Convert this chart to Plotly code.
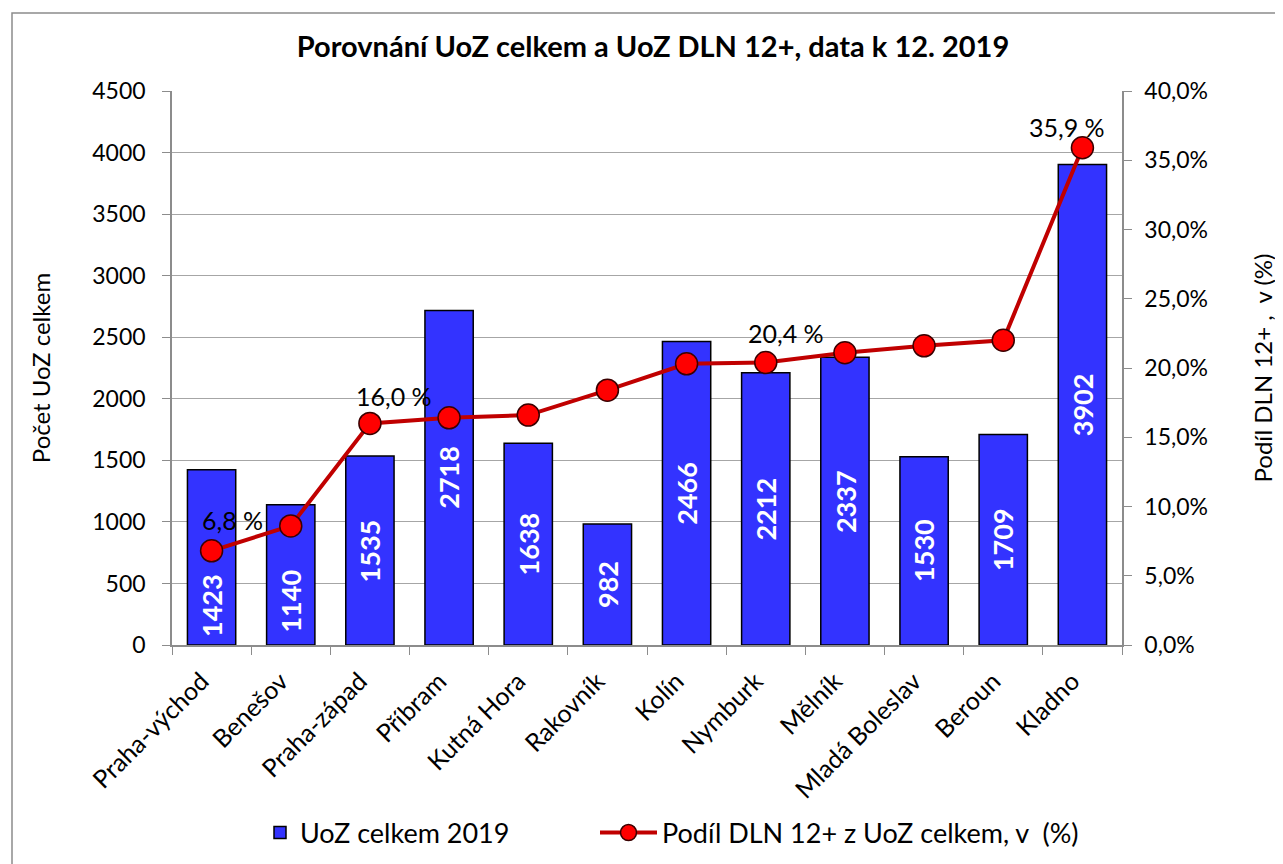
import plotly.graph_objects as go

categories = ["Praha-východ", "Benešov", "Praha-západ", "Příbram", "Kutná Hora", "Rakovník",
              "Kolín", "Nymburk", "Mělník", "Mladá Boleslav", "Beroun", "Kladno"]
uoz_celkem = [1423, 1140, 1535, 2718, 1638, 982, 2466, 2212, 2337, 1530, 1709, 3902]
podil_dln = [6.8, 8.6, 16.0, 16.4, 16.6, 18.4, 20.3, 20.4, 21.1, 21.6, 22.0, 35.9]
labeled_points = {0: "6,8 %", 2: "16,0 %", 7: "20,4 %", 11: "35,9 %"}

# style offsets (pixels) for the labels
label_shifts = {0: (21, 31), 2: (24, 27), 7: (20, 29), 11: (-15, 21)}
bar_label_yshift = [-48, -26, 0, 0, 0, 0, 0, 0, 0, 0, 0, 0]

FONT = "Lato"
# plot area in page pixels (page has an 8px body margin)
PX0, PX1, PY0, PY1 = 172, 1122, 91, 645
OFF = 8

def px_x(px):
    return (px - PX0) / (PX1 - PX0)

def px_y(py):
    return (PY1 - py) / (PY1 - PY0)

fig = go.Figure()
fig.add_trace(go.Bar(
    x=categories, y=uoz_celkem, name="UoZ celkem 2019",
    marker=dict(color="#3333FF", line=dict(color="black", width=1.5)),
    legend="legend",
))
fig.add_trace(go.Scatter(
    x=categories, y=podil_dln, name="Podíl DLN 12+ z UoZ celkem, v  (%)", yaxis="y2",
    mode="lines+markers",
    line=dict(color="#C00000", width=4),
    marker=dict(color="#FF0000", size=22, line=dict(color="#3a0000", width=1.5)),
    legend="legend2",
))

for cat, val, ys in zip(categories, uoz_celkem, bar_label_yshift):
    fig.add_annotation(x=cat, y=val / 2, xref="x", yref="y", text=f"<b>{val}</b>",
                       showarrow=False, textangle=-90, yshift=ys,
                       font=dict(size=27, color="white", family=FONT))

for i, txt in labeled_points.items():
    dx, dy = label_shifts[i]
    fig.add_annotation(x=categories[i], y=podil_dln[i], xref="x", yref="y2", text=txt,
                       showarrow=False, xshift=dx, yshift=dy,
                       font=dict(size=25, color="black", family=FONT))

# chart frame
fig.add_shape(type="rect", xref="paper", yref="paper",
              x0=px_x(12), x1=px_x(1300), y0=px_y(880), y1=px_y(13),
              line=dict(color="#8c8c8c", width=1.5), fillcolor="rgba(0,0,0,0)", layer="below")

W, H = 1283, 864
ml = PX0 - OFF
mt = PY0 - OFF
mr = W - (PX1 - OFF)
mb = H - (PY1 - OFF)

fig.update_layout(
    width=W, height=H,
    margin=dict(l=ml, r=mr, t=mt, b=mb, pad=0, autoexpand=False),
    paper_bgcolor="white", plot_bgcolor="white",
    font=dict(family=FONT, size=22, color="black"),
    separators=", ",
    bargap=0.39,
    title=dict(text="<b>Porovnání UoZ celkem a UoZ DLN 12+, data k 12. 2019</b>",
               x=px_x(653), xref="paper", xanchor="center",
               y=1 - (47 - OFF) / H, yanchor="middle", font=dict(size=29, family=FONT)),
    xaxis=dict(
        range=[-0.5, len(categories) - 0.5],
        tickangle=-45, tickson="boundaries", ticks="outside", ticklen=8, tickcolor="#8c8c8c",
        showline=True, linecolor="#8c8c8c", linewidth=1.5, showgrid=False,
        tickfont=dict(size=25, family=FONT), ticklabelshift=-10, ticklabelstandoff=10,
    ),
    yaxis=dict(
        range=[0, 4500], dtick=500, tick0=0, showgrid=True, gridcolor="#a6a6a6", gridwidth=1.2,
        showline=True, linecolor="#8c8c8c", linewidth=1.5, ticks="outside", ticklen=8,
        tickcolor="#8c8c8c", zeroline=False, ticklabelstandoff=12,
        title=dict(text="Počet UoZ celkem", font=dict(size=24, family=FONT), standoff=35),
        tickfont=dict(size=23, family=FONT),
    ),
    yaxis2=dict(
        range=[0, 40], dtick=5, tick0=0, overlaying="y", side="right", showgrid=False,
        showline=True, linecolor="#8c8c8c", linewidth=1.5, ticks="outside", ticklen=8,
        tickcolor="#8c8c8c", tickformat=".1f", ticksuffix="%", zeroline=False,
        ticklabelstandoff=8,
        title=dict(text="Podíl DLN 12+ ,  v (%)", font=dict(size=24, family=FONT), standoff=48),
        tickfont=dict(size=23, family=FONT),
    ),
    legend=dict(orientation="h", x=px_x(260), xanchor="left",
                y=px_y(833), yanchor="middle",
                font=dict(size=27, family=FONT), itemwidth=30),
    legend2=dict(orientation="h", x=px_x(595), xanchor="left",
                 y=px_y(833), yanchor="middle",
                 font=dict(size=27, family=FONT), itemwidth=57),
    showlegend=True,
)

fig.write_html("out.html")
